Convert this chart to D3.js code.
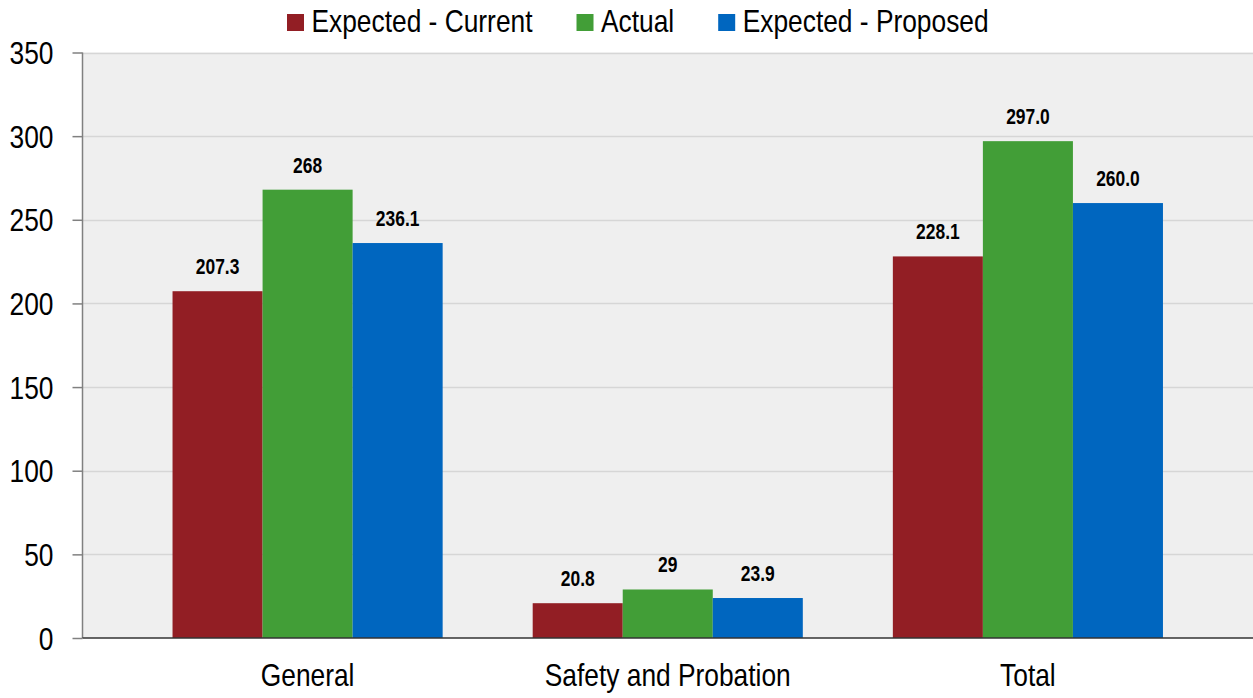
<!DOCTYPE html>
<html>
<head>
<meta charset="utf-8">
<script src="https://cdn.jsdelivr.net/npm/d3@7"></script>
<style>
  html, body { margin: 0; padding: 0; background: #ffffff; }
  svg { display: block; }
  text { font-family: "Liberation Sans", Arial, sans-serif; }
</style>
</head>
<body>
<svg id="chart" width="1253" height="698"></svg>
<script>
// Categories and series values
const categories = ["General", "Safety and Probation", "Total"];
const seriesNames = ["Expected - Current", "Actual", "Expected - Proposed"];
const seriesColors = ["#921E24", "#429E37", "#0066BF"];
const expectedCurrent = [207.3, 20.8, 228.1];
const actual = [268, 29, 297.0];
const expectedProposed = [236.1, 23.9, 260.0];
const valueLabels = [
  ["207.3", "20.8", "228.1"],
  ["268", "29", "297.0"],
  ["236.1", "23.9", "260.0"]
];
const yTicks = [0, 50, 100, 150, 200, 250, 300, 350];

const seriesValues = [expectedCurrent, actual, expectedProposed];

const W = 1253, H = 698;
const margin = { top: 52.5, right: 0, bottom: 60, left: 82.5 };
const NARROW = 0.85;        // horizontal condensing of regular text
const NARROW_BOLD = 0.81;   // horizontal condensing of bold value labels
const svg = d3.select("#chart");

// Condense a text selection horizontally around its own anchor point
function condense(sel, k) {
  sel.each(function () {
    const t = d3.select(this);
    const x = +t.attr("x") || 0;
    const yv = +t.attr("y") || 0;
    const tr = t.attr("transform") || "";
    t.attr("x", 0).attr("y", 0)
     .attr("transform", `${tr} translate(${x},${yv}) scale(${k},1)`);
  });
}

const x0 = d3.scaleBand()
  .domain(categories)
  .range([margin.left, W - margin.right])
  .padding(0.25);

const x1 = d3.scaleBand()
  .domain(d3.range(seriesNames.length))
  .range([0, x0.bandwidth()])
  .padding(0);

const y = d3.scaleLinear()
  .domain([0, 350])
  .range([H - margin.bottom, margin.top]);

// Plot background
svg.append("rect")
  .attr("x", margin.left)
  .attr("y", margin.top)
  .attr("width", W - margin.right - margin.left)
  .attr("height", y(0) - margin.top)
  .attr("fill", "#efefef");

// Horizontal gridlines
svg.append("g")
  .selectAll("line")
  .data(yTicks.filter(d => d > 0))
  .join("line")
  .attr("x1", margin.left)
  .attr("x2", W - margin.right)
  .attr("y1", d => Math.round(y(d)) + 0.5)
  .attr("y2", d => Math.round(y(d)) + 0.5)
  .attr("stroke", "#d6d6d6")
  .attr("stroke-width", 1.5);

// Bars
const groups = svg.append("g")
  .selectAll("g")
  .data(categories)
  .join("g")
  .attr("transform", d => `translate(${x0(d)},0)`);

const cells = (c, ci) => seriesValues.map((vals, si) => ({ si, v: vals[ci], label: valueLabels[si][ci] }));

groups.selectAll("rect")
  .data(cells)
  .join("rect")
  .attr("x", d => x1(d.si))
  .attr("y", d => y(d.v))
  .attr("width", x1.bandwidth())
  .attr("height", d => y(0) - y(d.v))
  .attr("fill", d => seriesColors[d.si]);

// Value labels above bars
groups.selectAll("text")
  .data(cells)
  .join("text")
  .attr("x", d => x1(d.si) + x1.bandwidth() / 2)
  .attr("y", d => y(d.v) - 17)
  .attr("text-anchor", "middle")
  .attr("font-size", 21.5)
  .attr("font-weight", "bold")
  .attr("fill", "#000")
  .text(d => d.label)
  .call(condense, NARROW_BOLD);

// Y axis
const yAxis = svg.append("g")
  .attr("transform", `translate(${margin.left},0)`)
  .call(d3.axisLeft(y).tickValues(yTicks).tickSize(10).tickPadding(19));
yAxis.select(".domain").attr("stroke", "#808080").attr("stroke-width", 1.5).attr("d", `M0,${margin.top}V${y(0)}`);
yAxis.selectAll(".tick line").attr("stroke", "#808080").attr("stroke-width", 1.5);
yAxis.selectAll(".tick text")
  .attr("font-size", 31)
  .attr("fill", "#000")
  .attr("dy", "0.36em")
  .style("font-family", "'Liberation Sans', Arial, sans-serif")
  .call(condense, NARROW);

// X axis
const xAxis = svg.append("g")
  .attr("transform", `translate(0,${y(0)})`)
  .call(d3.axisBottom(x0).tickSize(0).tickPadding(26));
xAxis.select(".domain").attr("stroke", "#333").attr("stroke-width", 1.5)
  .attr("d", `M${margin.left},0H${W}`);
xAxis.selectAll(".tick text")
  .attr("font-size", 31)
  .attr("fill", "#000")
  .attr("dy", "0.72em")
  .style("font-family", "'Liberation Sans', Arial, sans-serif")
  .call(condense, NARROW);

// Legend
const legend = svg.append("g").attr("transform", "translate(287,0)");
let lx = 0;
seriesNames.forEach((name, i) => {
  const item = legend.append("g").attr("transform", `translate(${lx},0)`);
  item.append("rect")
    .attr("x", 0).attr("y", 14)
    .attr("width", 17).attr("height", 17)
    .attr("fill", seriesColors[i]);
  const t = item.append("text")
    .attr("x", 24.5).attr("y", 32)
    .attr("font-size", 31)
    .attr("fill", "#000")
    .text(name)
    .call(condense, NARROW);
  lx += 24.5 + t.node().getComputedTextLength() * NARROW + 44;
});
</script>
</body>
</html>
